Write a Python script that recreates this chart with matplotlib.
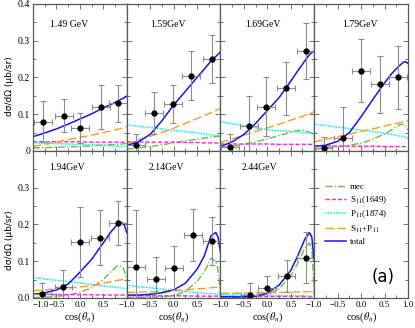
import matplotlib
matplotlib.use("Agg")
from matplotlib import pyplot as plt
from matplotlib.ticker import MultipleLocator

plt.rcParams['font.family'] = ['Liberation Serif', 'DejaVu Serif']
plt.rcParams['mathtext.fontset'] = 'stix'

# energies of the panels
energies = ['1.49 GeV', '1.59GeV', '1.69GeV', '1.79GeV', '1.94GeV', '2.14GeV', '2.44GeV']

# cos(theta_eta) grid on which the curves were read
cos_grid = [-1.0, -0.75, -0.5, -0.25, 0.0, 0.25, 0.5, 0.65, 0.8, 0.9, 0.95, 1.0]

total = [
    [0.039, 0.049, 0.060, 0.073, 0.087, 0.101, 0.117, 0.126, 0.135, 0.142, 0.145, 0.149],
    [0.015, 0.025, 0.045, 0.082, 0.125, 0.162, 0.200, 0.222, 0.245, 0.257, 0.263, 0.270],
    [0.012, 0.025, 0.045, 0.075, 0.110, 0.145, 0.190, 0.218, 0.245, 0.262, 0.268, 0.272],
    [0.012, 0.016, 0.026, 0.050, 0.093, 0.140, 0.185, 0.210, 0.230, 0.241, 0.243, 0.238],
    [0.010, 0.014, 0.022, 0.038, 0.070, 0.105, 0.150, 0.178, 0.200, 0.205, 0.198, 0.178],
    [0.008, 0.008, 0.010, 0.014, 0.022, 0.040, 0.078, 0.113, 0.170, 0.178, 0.165, 0.125],
    [0.004, 0.003, 0.003, 0.005, 0.013, 0.035, 0.075, 0.115, 0.160, 0.178, 0.165, 0.100],
]
mec = [
    [0.008, 0.009, 0.010, 0.011, 0.012, 0.014, 0.016, 0.017, 0.018, 0.019, 0.020, 0.020],
    [0.005, 0.008, 0.012, 0.017, 0.022, 0.027, 0.032, 0.035, 0.038, 0.039, 0.040, 0.040],
    [0.010, 0.013, 0.018, 0.025, 0.033, 0.042, 0.051, 0.056, 0.056, 0.051, 0.047, 0.040],
    [0.005, 0.008, 0.012, 0.016, 0.021, 0.032, 0.046, 0.057, 0.070, 0.073, 0.068, 0.057],
    [0.001, 0.002, 0.004, 0.008, 0.015, 0.028, 0.050, 0.070, 0.088, 0.086, 0.075, 0.050],
    [0.001, 0.001, 0.002, 0.003, 0.006, 0.018, 0.045, 0.070, 0.108, 0.100, 0.075, 0.010],
    [0.002, 0.002, 0.002, 0.003, 0.008, 0.025, 0.060, 0.095, 0.135, 0.150, 0.135, 0.010],
]
s11 = [
    [0.025, 0.025, 0.025, 0.025, 0.025, 0.024, 0.024, 0.024, 0.024, 0.024, 0.024, 0.024],
    [0.025, 0.025, 0.024, 0.024, 0.024, 0.023, 0.023, 0.022, 0.022, 0.022, 0.021, 0.021],
    [0.019, 0.019, 0.019, 0.019, 0.019, 0.018, 0.018, 0.018, 0.018, 0.018, 0.018, 0.018],
    [0.014, 0.014, 0.013, 0.013, 0.013, 0.013, 0.012, 0.012, 0.012, 0.012, 0.012, 0.012],
    [0.010, 0.010, 0.009, 0.009, 0.009, 0.009, 0.008, 0.008, 0.008, 0.008, 0.008, 0.008],
    [0.006, 0.006, 0.006, 0.006, 0.006, 0.006, 0.005, 0.005, 0.005, 0.005, 0.005, 0.005],
    [0.004, 0.004, 0.004, 0.004, 0.004, 0.004, 0.004, 0.004, 0.004, 0.003, 0.003, 0.003],
]
p11 = [
    [0.022, 0.021, 0.020, 0.019, 0.018, 0.017, 0.015, 0.014, 0.013, 0.013, 0.012, 0.012],
    [0.071, 0.067, 0.064, 0.060, 0.056, 0.053, 0.049, 0.047, 0.044, 0.043, 0.042, 0.041],
    [0.080, 0.074, 0.069, 0.063, 0.058, 0.055, 0.053, 0.052, 0.050, 0.049, 0.049, 0.048],
    [0.073, 0.069, 0.065, 0.061, 0.057, 0.053, 0.048, 0.045, 0.041, 0.039, 0.037, 0.035],
    [0.056, 0.052, 0.048, 0.045, 0.041, 0.037, 0.033, 0.031, 0.029, 0.027, 0.026, 0.026],
    [0.035, 0.031, 0.028, 0.024, 0.021, 0.018, 0.015, 0.013, 0.012, 0.011, 0.010, 0.010],
    [0.009, 0.009, 0.008, 0.008, 0.007, 0.007, 0.006, 0.006, 0.006, 0.005, 0.005, 0.005],
]
s11_p11 = [
    [0.012, 0.018, 0.024, 0.031, 0.037, 0.043, 0.050, 0.054, 0.059, 0.062, 0.064, 0.066],
    [0.020, 0.030, 0.040, 0.050, 0.062, 0.075, 0.088, 0.096, 0.104, 0.110, 0.113, 0.116],
    [0.023, 0.033, 0.043, 0.053, 0.063, 0.073, 0.084, 0.090, 0.097, 0.101, 0.104, 0.107],
    [0.025, 0.032, 0.039, 0.046, 0.053, 0.060, 0.068, 0.072, 0.076, 0.079, 0.080, 0.082],
    [0.020, 0.022, 0.025, 0.027, 0.030, 0.034, 0.040, 0.044, 0.048, 0.050, 0.050, 0.050],
    [0.015, 0.016, 0.017, 0.018, 0.020, 0.022, 0.025, 0.026, 0.028, 0.029, 0.030, 0.030],
    [0.013, 0.013, 0.014, 0.014, 0.015, 0.015, 0.016, 0.016, 0.017, 0.017, 0.017, 0.017],
]

# measured points
data_x = [
    [-0.79, -0.33, 0.0, 0.45, 0.82],
    [-0.8, -0.42, -0.01, 0.37, 0.82],
    [-0.8, -0.39, -0.02, 0.4, 0.82],
    [-0.8, -0.38, -0.01, 0.41, 0.79],
    [-0.8, -0.35, 0.0, 0.43, 0.82],
    [-0.8, -0.38, 0.0, 0.42, 0.82],
    [-0.38, -0.01, 0.41, 0.82],
]
data_y = [
    [0.080, 0.096, 0.062, 0.119, 0.130],
    [0.015, 0.103, 0.128, 0.205, 0.250],
    [0.010, 0.069, 0.120, 0.170, 0.272],
    [0.008, 0.035, 0.218, 0.181, 0.200],
    [0.010, 0.031, 0.153, 0.164, 0.203],
    [0.085, 0.052, 0.081, 0.171, 0.156],
    [0.008, 0.026, 0.060, 0.110],
]
data_yerr = [
    [0.055, 0.045, 0.040, 0.060, 0.050],
    [0.030, 0.058, 0.052, 0.066, 0.066],
    [0.035, 0.080, 0.080, 0.073, 0.077],
    [0.030, 0.085, 0.086, 0.077, 0.085],
    [0.030, 0.045, 0.095, 0.075, 0.060],
    [0.155, 0.060, 0.060, 0.070, 0.065],
    [0.032, 0.035, 0.043, 0.070],
]
x_half_width = 0.19

legend_labels = ['mec', 'S$_{11}$(1649)', 'P$_{11}$(1874)', 'S$_{11}$+P$_{11}$', 'total']

c_mec = '#66c23a'
c_s11 = '#ff20e0'
c_p11 = '#00f0f0'
c_sp = '#ff9a20'
c_tot = '#1515f0'

fig, axes = plt.subplots(2, 4, figsize=(4.15, 3.28), dpi=100)
fig.subplots_adjust(left=0.0795, right=0.983, bottom=0.0915, top=0.988, wspace=0, hspace=0)

minus = '\u2212'
for k, ax in enumerate(axes.flat):
    row, col = divmod(k, 4)
    ax.set_xlim(-1, 1)
    ax.set_ylim(0, 0.4)
    ax.xaxis.set_minor_locator(MultipleLocator(0.25))
    ax.yaxis.set_minor_locator(MultipleLocator(0.05))
    ax.tick_params(which='both', direction='in', top=True, right=True, color='0.35', labelsize=7, pad=2)
    ax.tick_params(axis='x', labelsize=6.5)
    ax.tick_params(which='major', length=3.5, width=0.6)
    ax.tick_params(which='minor', length=2, width=0.6)
    for sp in ax.spines.values():
        sp.set_color('0.35')
        sp.set_linewidth(0.9)

    if row == 0:
        ax.set_xticks([-1, -0.5, 0, 0.5, 1], labels=[''] * 5)
    else:
        last = '1.0' if col == 3 else ''
        ax.set_xticks([-1, -0.5, 0, 0.5, 1], labels=[minus + '1.0', minus + '0.5', '0.0', '0.5', last])
        if col == 0:
            # keep the first label clear of the 0.0 on the y axis
            ax.get_xticklabels()[0].set_horizontalalignment('left')
        ax.set_xlabel(r'cos($\theta_\eta$)', fontsize=7.5, labelpad=1)

    if col == 0:
        if row == 0:
            ax.set_yticks([0, 0.1, 0.2, 0.3, 0.4], labels=['0', '0.1', '0.2', '0.3', '0.4'])
        else:
            ax.set_yticks([0, 0.1, 0.2, 0.3, 0.4], labels=['0.0', '0.1', '0.2', '0.3', ''])
    else:
        ax.set_yticks([0, 0.1, 0.2, 0.3, 0.4], labels=[''] * 5)

    if k < 7:
        ax.plot(cos_grid, mec[k], color=c_mec, lw=1.0, dashes=(5, 1.5, 1, 1.5))
        ax.plot(cos_grid, s11[k], color=c_s11, lw=1.0, dashes=(3, 1.5))
        ax.plot(cos_grid, p11[k], color=c_p11, lw=1.1, dashes=(1, 0.8))
        ax.plot(cos_grid, s11_p11[k], color=c_sp, lw=1.0, dashes=(6, 2.5))
        ax.plot(cos_grid, total[k], color=c_tot, lw=1.1)
        ax.errorbar(data_x[k], data_y[k], xerr=x_half_width, yerr=data_yerr[k], fmt='o',
                    color='black', ms=3.5, ecolor='0.55', elinewidth=0.8, capsize=2, capthick=0.8)
        tx = [-0.23, -0.12, -0.09, -0.02, -0.28, -0.16, -0.16][k]
        ax.text(tx, 0.345 if row == 0 else 0.355, energies[k], ha='center', va='center', fontsize=7)
    else:
        handles = [
            plt.Line2D([], [], color=c_mec, lw=1.0, dashes=(5, 1.5, 1, 1.5)),
            plt.Line2D([], [], color=c_s11, lw=1.0, dashes=(3, 1.5)),
            plt.Line2D([], [], color=c_p11, lw=1.1, dashes=(1, 0.8)),
            plt.Line2D([], [], color=c_sp, lw=1.0, dashes=(6, 2.5)),
            plt.Line2D([], [], color=c_tot, lw=1.1),
        ]
        ax.legend(handles, legend_labels, loc='upper left', bbox_to_anchor=(0.08, 0.81),
                  frameon=False, fontsize=6.5, handlelength=2.3, labelspacing=0.35,
                  handletextpad=0.4, borderaxespad=0)
        ax.text(0.73, 0.145, '(a)', transform=ax.transAxes, ha='center', va='center',
                fontsize=12, family='DejaVu Sans')

fig.text(10 / 415, 1 - 86 / 328, 'd\u03c3/d\u03a9 (\u03bcb/sr)', rotation=90, ha='center', va='center',
         fontsize=6.5, family='DejaVu Sans')
fig.text(10 / 415, 1 - 240 / 328, 'd\u03c3/d\u03a9 (\u03bcb/sr)', rotation=90, ha='center', va='center',
         fontsize=6.5, family='DejaVu Sans')

fig.savefig('out.png', dpi=100)
